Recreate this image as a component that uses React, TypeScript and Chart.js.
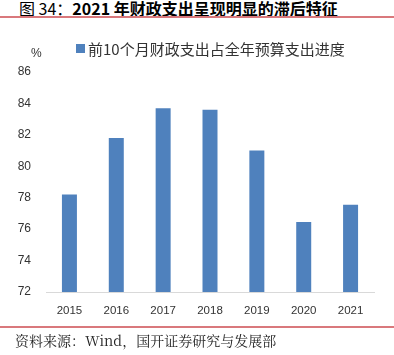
import React, { useEffect, useRef } from "react";
import { Chart, registerables } from "chart.js";

Chart.register(...registerables);

const titlePrefix = "图 34：";
const titleMain = "2021 年财政支出呈现明显的滞后特征";
const sourceText = "资料来源：Wind，国开证券研究与发展部";
const seriesName = "前10个月财政支出占全年预算支出进度";
const unitLabel = "%";
const years = ["2015", "2016", "2017", "2018", "2019", "2020", "2021"];
const progress = [78.2, 81.8, 83.7, 83.6, 81.0, 76.45, 77.55];
const yMin = 72;
const yMax = 86;
const yStep = 2;

const BAR_COLOR = "#4F81BD";
const RED_LINE = "#D9787C";

export default function App() {
  const canvasRef = useRef<HTMLCanvasElement | null>(null);

  useEffect(() => {
    const canvas = canvasRef.current;
    if (!canvas) return;
    const chart = new Chart(canvas, {
      type: "bar",
      data: {
        labels: years,
        datasets: [
          {
            label: seriesName,
            data: progress,
            backgroundColor: BAR_COLOR,
            borderWidth: 0,
            barPercentage: 0.32,
            categoryPercentage: 1,
          },
        ],
      },
      options: {
        animation: false,
        responsive: false,
        maintainAspectRatio: false,
        layout: { padding: { left: 0, right: 20, top: 72, bottom: 33 } },
        plugins: {
          legend: { display: false },
          tooltip: { enabled: false },
          title: { display: false },
        },
        scales: {
          x: {
            grid: { display: true, color: "rgba(0,0,0,0)", drawTicks: false },
            border: { display: true, color: "#D9D9D9", width: 1 },
            ticks: {
              color: "#333333",
              font: { family: "'Liberation Sans', Arial, sans-serif", size: 11.5 },
              padding: 12,
            },
            afterFit: (scale: any) => {
              scale.height = 30;
            },
          },
          y: {
            min: yMin,
            max: yMax,
            grid: { display: false, drawTicks: false },
            border: { display: false },
            ticks: {
              stepSize: yStep,
              color: "#333333",
              font: { family: "'Liberation Sans', Arial, sans-serif", size: 12 },
              padding: 15,
            },
            afterFit: (scale: any) => {
              scale.width = 46;
            },
          },
        },
      },
    });
    return () => chart.destroy();
  }, []);

  return (
    <div style={{ position: "absolute", left: 0, top: 0, width: 394, height: 355, background: "#fff", overflow: "hidden" }}>
      <div
        style={{
          position: "absolute",
          left: 19,
          top: -1,
          fontFamily: "'Noto Sans CJK SC', 'Liberation Sans', sans-serif",
          fontSize: 16,
          lineHeight: "18px",
          color: "#000",
          whiteSpace: "nowrap",
        }}
      >
        <span style={{ fontWeight: 400 }}>{titlePrefix}</span>
        <span style={{ fontWeight: 700 }}>{titleMain}</span>
      </div>
      <div style={{ position: "absolute", left: 0, top: 16, width: 394, height: 1.5, background: RED_LINE }} />
      <canvas ref={canvasRef} width={394} height={355} style={{ position: "absolute", left: 0, top: 0, width: 394, height: 355 }} />
      <div style={{ position: "absolute", left: 76, top: 44, width: 9, height: 9, background: BAR_COLOR }} />
      <div
        style={{
          position: "absolute",
          left: 88,
          top: 40,
          fontFamily: "'Noto Sans CJK SC', sans-serif",
          fontSize: 15,
          lineHeight: "18px",
          color: "#333",
          whiteSpace: "nowrap",
        }}
      >
        {seriesName}
      </div>
      <div
        style={{
          position: "absolute",
          left: 31,
          top: 45,
          fontFamily: "'Liberation Sans', Arial, sans-serif",
          fontSize: 12,
          lineHeight: "16px",
          color: "#333",
        }}
      >
        {unitLabel}
      </div>
      <div style={{ position: "absolute", left: 0, top: 326, width: 394, height: 1.5, background: RED_LINE }} />
      <div
        style={{
          position: "absolute",
          left: 15,
          top: 331,
          fontFamily: "'Noto Serif CJK SC', 'Liberation Serif', 'Noto Sans CJK SC', serif",
          fontSize: 14,
          lineHeight: "18px",
          color: "#222",
          whiteSpace: "nowrap",
        }}
      >
        {sourceText}
      </div>
    </div>
  );
}
